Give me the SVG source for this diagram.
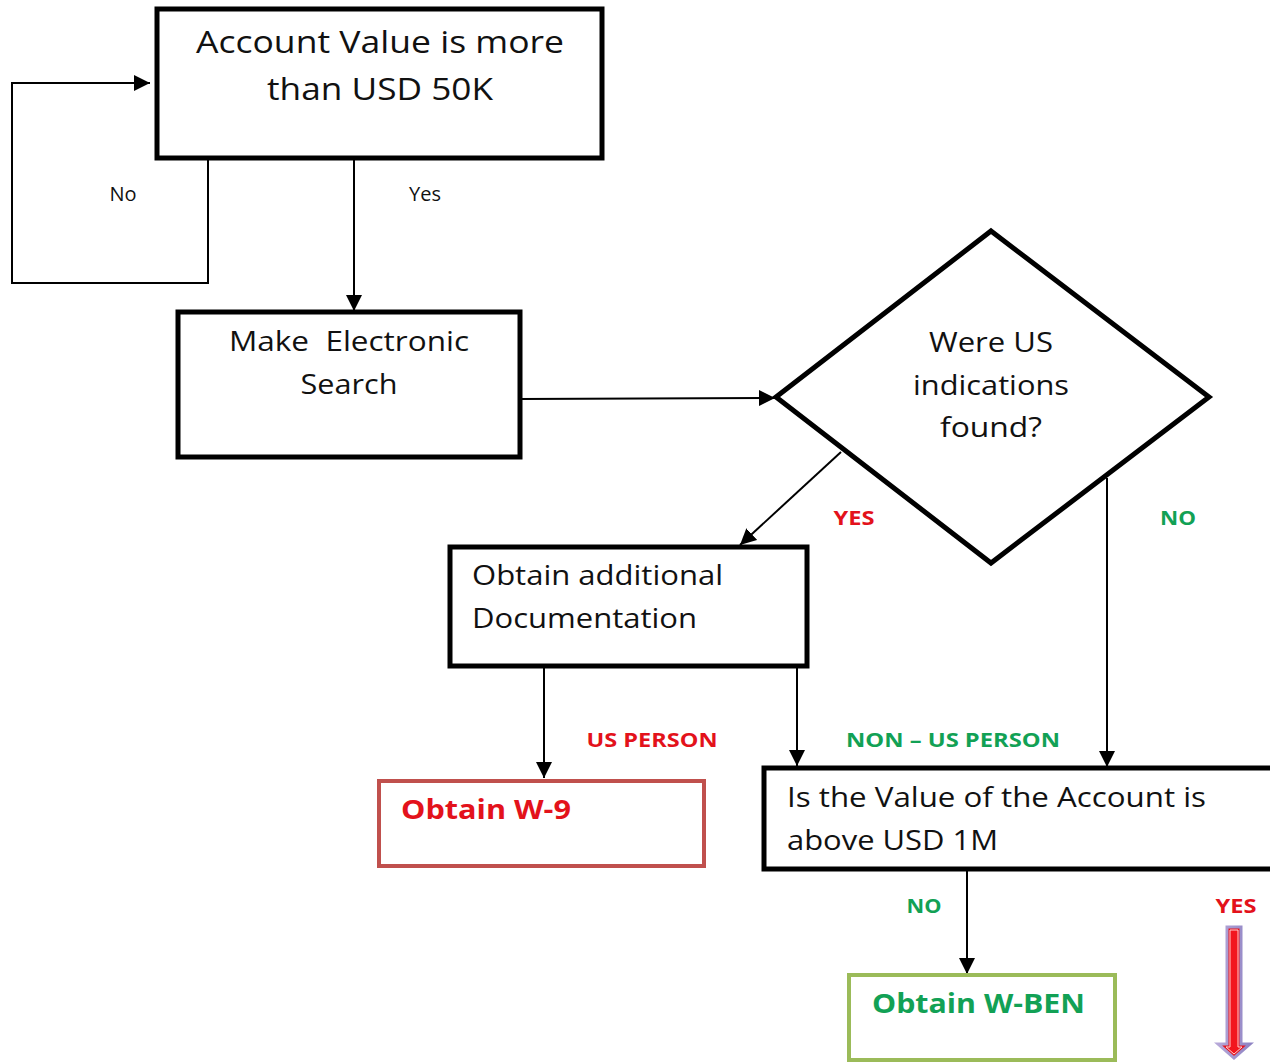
<svg xmlns="http://www.w3.org/2000/svg" width="1270" height="1064" viewBox="0 0 1270 1064">
<defs>
<style>
.box{fill:#fff;stroke:#000;stroke-width:5}
.t{font-family:"Open Sans","Liberation Sans",sans-serif;fill:#111}
.c{text-anchor:middle}
.big{font-size:31px}
.mid{font-size:28px}
.lbl{font-size:20px}
.b{font-weight:700}
.red{fill:#e3121b}
.grn{fill:#12a155}
.ln{fill:none;stroke:#000;stroke-width:2}
</style>
<marker id="ah" viewBox="0 0 10 10" refX="10" refY="5" markerWidth="7" markerHeight="7" markerUnits="userSpaceOnUse" orient="auto">
<path d="M0,0 L10,5 L0,10 z" fill="#000"/>
</marker>
<marker id="ahb" viewBox="0 0 10 10" refX="10" refY="5" markerWidth="8" markerHeight="8" orient="auto">
<path d="M0,0 L10,5 L0,10 z" fill="#000"/>
</marker>
<linearGradient id="bord" x1="0" y1="0" x2="1" y2="0">
<stop offset="0" stop-color="#b6a8d8"/>
<stop offset="1" stop-color="#8f84c4"/>
</linearGradient>
</defs>
<rect width="1270" height="1064" fill="#fff"/>

<g id="connectors">
<polyline class="ln" points="208,158 208,283 12,283 12,83 150,83" marker-end="url(#ahb)"/>
<line class="ln" x1="354" y1="158" x2="354" y2="311" marker-end="url(#ahb)"/>
<line class="ln" x1="520" y1="399" x2="775" y2="398" marker-end="url(#ahb)"/>
<line class="ln" x1="841" y1="452" x2="740" y2="545" marker-end="url(#ahb)"/>
<line class="ln" x1="1107" y1="478" x2="1107" y2="767" marker-end="url(#ahb)"/>
<line class="ln" x1="544" y1="668" x2="544" y2="778" marker-end="url(#ahb)"/>
<line class="ln" x1="797" y1="668" x2="797" y2="766" marker-end="url(#ahb)"/>
<line class="ln" x1="967" y1="871" x2="967" y2="974" marker-end="url(#ahb)"/>
<polygon points="1227,927 1241,927 1241,1044 1250,1044 1234,1058 1218,1044 1227,1044" fill="#e8131c" stroke="url(#bord)" stroke-width="3" stroke-linejoin="miter"/>
<polygon points="1230,930 1238,930 1238,1047 1242,1047 1234,1054 1226,1047 1230,1047" fill="#f2161e" stroke="#ffd0d0" stroke-width="1"/>
<text class="t lbl c" x="123" y="201">No</text>
<text class="t lbl c" x="425" y="201">Yes</text>
<text class="t lbl b red c" x="854" y="525" textLength="41" lengthAdjust="spacingAndGlyphs">YES</text>
<text class="t lbl b grn c" x="1178" y="525" textLength="36" lengthAdjust="spacingAndGlyphs">NO</text>
<text class="t lbl b red c" x="652" y="747" textLength="131" lengthAdjust="spacingAndGlyphs">US PERSON</text>
<text class="t lbl b grn c" x="953" y="747" textLength="214" lengthAdjust="spacingAndGlyphs">NON – US PERSON</text>
<text class="t lbl b grn c" x="924" y="913" textLength="35" lengthAdjust="spacingAndGlyphs">NO</text>
<text class="t lbl b red c" x="1236" y="913" textLength="41" lengthAdjust="spacingAndGlyphs">YES</text>
</g>

<g id="node-account-value">
<rect class="box" x="157" y="9" width="445" height="149"/>
<text class="t big c" x="380" y="53" textLength="368" lengthAdjust="spacingAndGlyphs">Account Value is more</text>
<text class="t big c" x="380" y="100" textLength="226" lengthAdjust="spacingAndGlyphs">than USD 50K</text>
</g>

<g id="node-electronic-search">
<rect class="box" x="178" y="312" width="342" height="145"/>
<text class="t mid c" x="349" y="351" textLength="240" lengthAdjust="spacingAndGlyphs" xml:space="preserve">Make  Electronic</text>
<text class="t mid c" x="349" y="394" textLength="97" lengthAdjust="spacingAndGlyphs">Search</text>
</g>

<g id="node-us-indications">
<polygon class="box" points="991,231 1209,397 991,563 776,397"/>
<text class="t mid c" x="991" y="352" textLength="124" lengthAdjust="spacingAndGlyphs">Were US</text>
<text class="t mid c" x="991" y="395" textLength="156" lengthAdjust="spacingAndGlyphs">indications</text>
<text class="t mid c" x="991" y="437" textLength="102" lengthAdjust="spacingAndGlyphs">found?</text>
</g>

<g id="node-additional-doc">
<rect class="box" x="450" y="547" width="357" height="119"/>
<text class="t mid" x="472" y="585" textLength="251" lengthAdjust="spacingAndGlyphs">Obtain additional</text>
<text class="t mid" x="472" y="628" textLength="225" lengthAdjust="spacingAndGlyphs">Documentation</text>
</g>

<g id="node-w9">
<rect x="379" y="781" width="325" height="85" fill="#fff" stroke="#c0504d" stroke-width="4"/>
<text class="t b red" x="401" y="819" font-size="26" textLength="170" lengthAdjust="spacingAndGlyphs">Obtain W-9</text>
</g>

<g id="node-value-1m">
<rect class="box" x="764" y="768" width="515" height="101"/>
<text class="t mid" x="787" y="807" textLength="419" lengthAdjust="spacingAndGlyphs">Is the Value of the Account is</text>
<text class="t mid" x="787" y="850" textLength="211" lengthAdjust="spacingAndGlyphs">above USD 1M</text>
</g>

<g id="node-wben">
<rect x="849" y="975" width="266" height="85" fill="#fff" stroke="#9bbb59" stroke-width="4"/>
<text class="t b grn" x="872" y="1013" font-size="26" textLength="213" lengthAdjust="spacingAndGlyphs">Obtain W-BEN</text>
</g>
</svg>
